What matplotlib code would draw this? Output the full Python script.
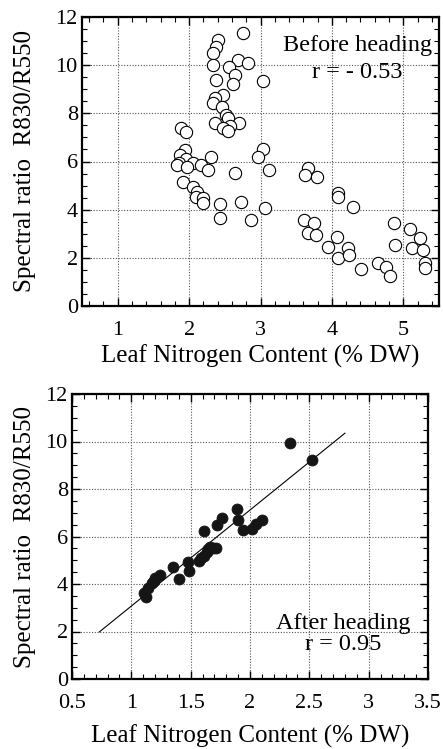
import matplotlib
matplotlib.use("Agg")
import matplotlib.pyplot as plt
from matplotlib.ticker import MultipleLocator

plt.rcParams['font.family'] = ['Liberation Serif', 'DejaVu Serif']

# ---- Before heading (open circles) ----
before_n = [2.40, 2.38, 2.34, 2.33, 2.75, 2.68, 2.82, 2.56, 2.64, 3.04,
            2.38, 2.62, 2.47, 2.36, 2.34, 2.46, 2.52, 2.54, 2.36, 2.70,
            2.57, 2.47, 2.54, 1.88, 1.95, 1.94, 1.87, 1.95, 1.86, 1.83,
            2.05, 2.16, 2.31, 2.26, 1.97, 3.03, 2.97, 3.12, 2.64, 1.92,
            2.05, 2.11, 2.09, 2.20, 2.19, 2.43, 2.73, 3.06, 2.43, 2.87,
            3.66, 3.63, 3.79, 4.08, 4.09, 4.29, 3.61, 3.75, 3.67, 3.78,
            4.07, 3.94, 4.22, 4.08, 4.24, 4.41, 4.65, 4.76, 4.81, 4.87,
            4.89, 5.10, 5.24, 5.12, 5.27, 5.30, 5.31]
before_r = [11.05, 10.77, 10.49, 10.00, 11.32, 10.22, 10.10, 9.94, 9.59, 9.34,
            9.39, 9.22, 8.76, 8.62, 8.42, 8.25, 7.93, 7.79, 7.61, 7.61,
            7.47, 7.38, 7.28, 7.40, 7.21, 6.48, 6.27, 6.09, 5.93, 5.86,
            5.93, 5.86, 6.18, 5.65, 5.79, 6.52, 6.20, 5.65, 5.54, 5.16,
            4.95, 4.75, 4.54, 4.47, 4.26, 4.22, 4.33, 4.06, 3.64, 3.57,
            5.72, 5.44, 5.37, 4.68, 4.54, 4.10, 3.57, 3.43, 3.02, 2.95,
            2.85, 2.44, 2.40, 1.98, 2.12, 1.52, 1.77, 1.63, 1.25, 3.43,
            2.53, 3.18, 2.84, 2.40, 2.33, 1.77, 1.57]

# ---- After heading (filled circles) ----
after_n = [1.12, 1.11, 1.14, 1.17, 1.20, 1.24, 1.19, 1.35, 1.40, 1.48,
           1.49, 1.57, 1.61, 1.64, 1.66, 1.71, 1.61, 1.72, 1.76, 1.89,
           1.90, 1.94, 2.02, 2.05, 2.10, 2.34, 2.52, 1.65, 1.69, 1.59]
after_r = [3.47, 3.63, 3.82, 4.03, 4.24, 4.38, 4.14, 4.73, 4.20, 4.94,
           4.56, 4.98, 5.18, 5.36, 5.57, 5.50, 6.24, 6.48, 6.79, 7.14,
           6.69, 6.27, 6.30, 6.53, 6.69, 9.92, 9.22, 5.46, 5.50, 5.08]
fit_n = [0.73, 2.80]
fit_r = [1.98, 10.35]

top_xticks = [1, 2, 3, 4, 5]
bot_xticks = [0.5, 1, 1.5, 2, 2.5, 3, 3.5]
bot_xticklabels = ['0.5', '1', '1.5', '2', '2.5', '3', '3.5']
yticks = [0, 2, 4, 6, 8, 10, 12]

W, H = 443, 749
fig = plt.figure(figsize=(W / 100, H / 100), dpi=100)

def make_axes(l, r, t, b):
    return fig.add_axes([l / W, 1 - b / H, (r - l) / W, (b - t) / H])

ax1 = make_axes(82, 439, 17, 306)
ax2 = make_axes(72, 428, 394, 679)

ylab = 'Spectral ratio  R830/R550'
xlab = 'Leaf Nitrogen Content (% DW)'

def style(ax, xminor, labelpad):
    for s in ax.spines.values():
        s.set_linewidth(1.6)
        s.set_color('black')
    ax.tick_params(which='both', direction='in', top=True, right=True,
                   labelsize=16, colors='black')
    ax.tick_params(which='major', length=6, width=1.0)
    ax.tick_params(which='minor', length=3.5, width=0.8)
    ax.tick_params(axis='x', which='major', pad=11)
    ax.tick_params(axis='y', which='major', pad=3)
    ax.xaxis.set_minor_locator(MultipleLocator(xminor))
    ax.yaxis.set_minor_locator(MultipleLocator(0.5))
    ax.grid(True, which='major', linestyle=(0, (1, 1.5)), color='#555555',
            linewidth=0.8)
    ax.set_axisbelow(True)
    ax.set_yticks(yticks)
    ax.set_ylim(0, 12)
    ax.set_xlabel(xlab, fontsize=18, labelpad=labelpad)
    ax.set_ylabel(ylab, fontsize=18)

# top panel
ax1.scatter(before_n, before_r, s=78, facecolors='white', edgecolors='black',
            linewidths=0.8, zorder=3)
ax1.set_xlim(0.5, 5.5)
ax1.set_xticks(top_xticks)
style(ax1, 0.2, 3)
ax1.yaxis.set_label_coords((36 - 82) / (439 - 82), 0.5)

# bottom panel
ax2.plot(fit_n, fit_r, color='black', linewidth=0.8, zorder=2)
ax2.scatter(after_n, after_r, s=62, facecolors='#151515', edgecolors='#151515',
            linewidths=0.6, zorder=3)
ax2.set_xlim(0.5, 3.5)
ax2.set_xticks(bot_xticks)
ax2.set_xticklabels(bot_xticklabels)
style(ax2, 0.1, 8)
ax2.yaxis.set_label_coords((36 - 72) / (428 - 72), 0.5)

# annotations placed by pixel position (display coords, origin bottom-left)
ax1.text(358, H - 45, 'Before heading', transform=None, fontsize=17.5,
         ha='center', va='center')
ax1.text(357, H - 72, 'r = - 0.53', transform=None, fontsize=17.5,
         ha='center', va='center')
ax2.text(343, H - 623, 'After heading', transform=None, fontsize=17.5,
         ha='center', va='center')
ax2.text(343, H - 645, 'r = 0.95', transform=None, fontsize=17.5,
         ha='center', va='center')

fig.savefig('out.png', dpi=100)
